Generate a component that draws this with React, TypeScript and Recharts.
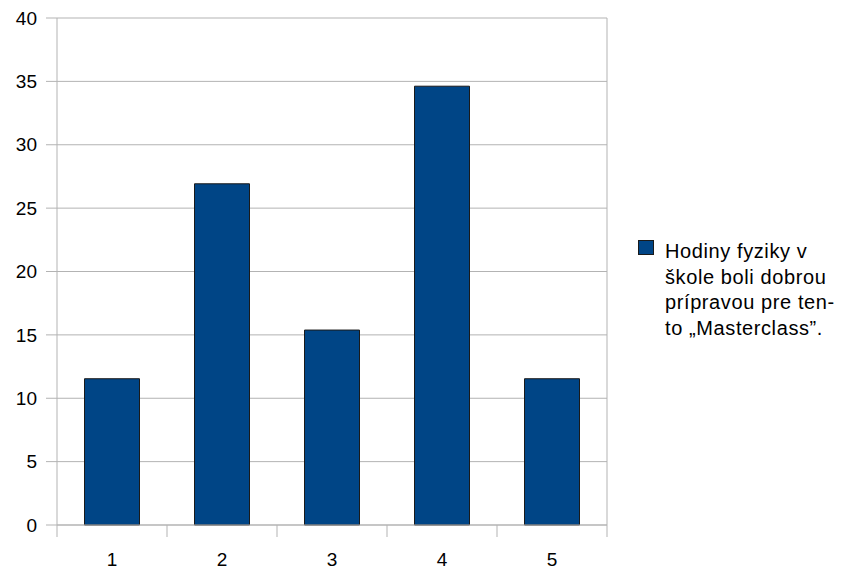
import { BarChart, Bar, XAxis, YAxis, CartesianGrid, Legend, ReferenceLine } from 'recharts';

const categories = ['1', '2', '3', '4', '5'];
const values = [11.54, 26.92, 15.38, 34.62, 11.54];
const yTicks = [0, 5, 10, 15, 20, 25, 30, 35, 40];
const seriesName = 'Hodiny fyziky v škole boli dobrou prípravou pre tento „Masterclass”.';
const legendLines = ['Hodiny fyziky v', 'škole boli dobrou', 'prípravou pre ten-', 'to „Masterclass”.'];

const data = categories.map((c, i) => ({ name: c, value: values[i] }));

const FONT = '"Liberation Sans", Arial, sans-serif';
const GRID = '#b3b3b3';
const BAR = '#004586';
const X_TICK_LEN = 12;
const X_LABEL_GAP = 28;

// category ticks: label at band centre, tick line at band edges
function XTick(props: any) {
  const { x, y, payload, index, visibleTicksCount } = props;
  const half = payload?.offset ?? 0;
  const axisY = y - X_LABEL_GAP;
  const last = index === visibleTicksCount - 1;
  return (
    <g>
      <line x1={x - half} x2={x - half} y1={axisY} y2={axisY + X_TICK_LEN} stroke={GRID} />
      {last && <line x1={x + half} x2={x + half} y1={axisY} y2={axisY + X_TICK_LEN} stroke={GRID} />}
      <text x={x} y={y} dy="0.71em" textAnchor="middle" fill="#000" fontSize={19} fontFamily={FONT}>
        {payload.value}
      </text>
    </g>
  );
}

function LegendBox() {
  return (
    <div style={{ display: 'flex', alignItems: 'flex-start', fontFamily: FONT, fontSize: 20, color: '#000' }}>
      <div style={{ width: 14, height: 13, background: BAR, border: '1px solid #1a1a1a', marginTop: 1, marginRight: 11, flexShrink: 0 }} />
      <div style={{ lineHeight: '25.7px', letterSpacing: 0.6, whiteSpace: 'nowrap' }}>
        {legendLines.map((l) => (
          <div key={l}>{l}</div>
        ))}
      </div>
    </div>
  );
}

export default function App() {
  return (
    <div style={{ position: 'absolute', left: 0, top: 0, background: '#fff' }}>
      <BarChart
        width={844}
        height={570}
        data={data}
        margin={{ top: 18, right: 237, bottom: 0, left: 0 }}
        barCategoryGap="25%"
      >
        <CartesianGrid stroke={GRID} vertical={false} />
        <XAxis
          dataKey="name"
          height={45}
          axisLine={{ stroke: GRID }}
          tickLine={false}
          tickSize={0}
          tickMargin={X_LABEL_GAP}
          tick={<XTick />}
        />
        <YAxis
          domain={[0, 40]}
          ticks={yTicks}
          width={57}
          axisLine={{ stroke: GRID }}
          tickLine={{ stroke: GRID }}
          tickSize={11}
          tickMargin={9}
          tick={{ fill: '#000', fontSize: 19, fontFamily: FONT }}
        />
        <ReferenceLine x="5" position="end" stroke={GRID} />
        <Legend
          layout="horizontal"
          align="center"
          verticalAlign="middle"
          content={() => <LegendBox />}
          wrapperStyle={{ left: 638, top: 239, width: 206 }}
        />
        <Bar dataKey="value" name={seriesName} fill={BAR} stroke="#1a1a1a" strokeWidth={1} isAnimationActive={false} />
      </BarChart>
    </div>
  );
}
